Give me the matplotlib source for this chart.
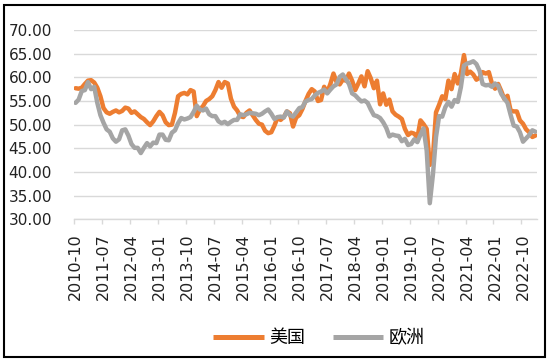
"""
US vs Europe manufacturing PMI, monthly line chart (Excel-style).
"""

import matplotlib
matplotlib.use('Agg')
import matplotlib.pyplot as plt
from matplotlib.patches import Rectangle
import numpy as np

# monthly values, 2010-10 .. 2023-02
us = [
    57.7, 57.6, 57.8, 58.6, 59.3, 59.4, 58.9, 57.8, 56.0, 53.5,
    52.6, 52.3, 52.7, 53.0, 52.6, 52.9, 53.6, 53.4, 52.5, 52.8,
    52.2, 51.6, 51.2, 50.5, 49.9, 50.7, 51.8, 52.7, 52.0, 50.5,
    49.9, 50.0, 52.5, 56.0, 56.5, 56.7, 56.4, 57.3, 57.0, 51.8,
    53.2, 53.9, 55.0, 55.4, 56.0, 57.3, 59.0, 57.8, 59.0, 58.7,
    55.5, 53.8, 53.0, 51.8, 51.6, 52.5, 53.0, 52.0, 51.0, 50.2,
    50.0, 48.7, 48.2, 48.4, 49.8, 51.5, 51.0, 51.6, 52.8, 52.4,
    49.6, 51.5, 52.0, 53.3, 55.0, 56.5, 57.5, 57.0, 55.0, 55.2,
    58.0, 56.8, 58.6, 60.8, 59.0, 58.5, 59.5, 59.3, 60.8, 59.3,
    57.3, 58.7, 60.2, 58.1, 61.3, 59.8, 57.7, 59.3, 54.3, 56.6,
    54.2, 55.3, 52.8, 52.1, 51.7, 51.2, 49.1, 47.8, 48.3, 48.1,
    47.2, 50.9, 50.1, 49.1, 41.5, 43.1, 52.6, 54.2, 56.0, 55.4,
    59.3, 57.5, 60.7, 58.7, 60.8, 64.7, 60.7, 61.2, 60.6, 59.5,
    59.9, 61.1, 60.8, 61.1, 58.7, 57.6, 58.6, 57.1, 55.4, 56.1,
    53.0, 52.8, 52.8, 50.9, 50.2, 49.0, 48.4, 47.4, 47.7,
]

eu = [
    54.6, 55.3, 57.1, 57.3, 59.0, 57.5, 58.0, 54.6, 52.0, 50.4,
    49.0, 48.5, 47.1, 46.4, 46.9, 48.8, 49.0, 47.7, 45.9, 45.1,
    45.1, 44.0, 45.1, 46.1, 45.4, 46.2, 46.1, 47.9, 47.9, 46.8,
    46.7, 48.3, 48.8, 50.3, 51.4, 51.1, 51.3, 51.6, 52.7, 54.0,
    53.2, 53.0, 53.4, 52.2, 51.8, 51.8, 50.7, 50.3, 50.6, 50.1,
    50.6, 51.0, 51.0, 52.2, 52.0, 52.2, 52.5, 52.4, 52.3, 52.0,
    52.3, 52.8, 53.2, 52.3, 51.2, 51.6, 51.7, 51.5, 52.8, 52.0,
    51.7, 52.6, 53.5, 53.7, 54.9, 55.2, 55.4, 56.2, 56.7, 57.0,
    57.4, 56.6, 57.4, 58.1, 58.5, 60.1, 60.6, 59.6, 58.6, 56.6,
    56.2, 55.5, 54.9, 55.1, 54.6, 53.2, 52.0, 51.8, 51.4, 50.5,
    49.3, 47.5, 47.9, 47.7, 47.6, 46.5, 47.0, 45.7, 45.9, 46.9,
    46.3, 47.9, 49.2, 44.5, 33.4, 39.4, 47.4, 51.8, 51.7, 53.7,
    54.8, 53.8, 55.2, 54.8, 57.9, 62.5, 62.9, 63.1, 63.4, 62.8,
    61.4, 58.6, 58.3, 58.4, 58.0, 58.7, 58.2, 56.5, 55.5, 54.6,
    52.1, 49.8, 49.6, 48.4, 46.4, 47.1, 47.8, 48.8, 48.5,
]

tick_labels = ['2010-10', '2011-07', '2012-04', '2013-01', '2013-10', '2014-07',
               '2015-04', '2016-01', '2016-10', '2017-07', '2018-04', '2019-01',
               '2019-10', '2020-07', '2021-04', '2022-01', '2022-10']
series_names = ['美国', '欧洲']

colors = {
    'us': '#ED7D31',
    'eu': '#A5A5A5',
    'grid': '#D9D9D9',
    'text': '#222222',
}

fig = plt.figure(figsize=(5.5, 3.61), dpi=100)
ax = fig.add_axes([74 / 550, 1 - 219.3 / 361, (537 - 74) / 550, (219.3 - 30) / 361])

x = np.arange(len(us))
ax.plot(x, us, color=colors['us'], lw=3.2, solid_joinstyle='round',
        solid_capstyle='round', label=series_names[0], zorder=3)
ax.plot(x, eu, color=colors['eu'], lw=3.2, solid_joinstyle='round',
        solid_capstyle='round', label=series_names[1], zorder=4)

ax.set_xlim(-0.5, len(us) - 0.5)
ax.set_ylim(30, 70)

# y axis
yt = np.arange(30, 71, 5)
ax.set_yticks(yt)
ax.set_yticklabels([f'{v:.2f}' for v in yt], fontsize=11, color=colors['text'],
                   family='DejaVu Sans', ha='left')
ax.tick_params(axis='y', length=0, pad=47)
ax.grid(axis='y', color=colors['grid'], lw=1.0)
ax.set_axisbelow(True)

# x axis: tick marks between categories, labels on categories
label_pos = np.arange(0, len(us), 9)[:len(tick_labels)]
ax.set_xticks(label_pos - 0.5)
ax.set_xticklabels([])
ax.set_xticks(label_pos, minor=True)
ax.set_xticklabels(tick_labels, minor=True, rotation=90, fontsize=11.5,
                   color=colors['text'], family='DejaVu Sans')
ax.tick_params(axis='x', which='major', length=3.5, color=colors['grid'], width=1)
ax.tick_params(axis='x', which='minor', length=0, pad=10)

for s in ['top', 'right', 'left']:
    ax.spines[s].set_visible(False)
ax.spines['bottom'].set_color(colors['grid'])
ax.spines['bottom'].set_linewidth(1.0)

fig.legend(loc='center', bbox_to_anchor=(319 / 550, 1 - 338 / 361), ncol=2,
           frameon=False, prop={'family': ['Noto Sans CJK SC', 'DejaVu Sans'], 'size': 13},
           handlelength=2.8, handletextpad=0.3, columnspacing=1.5)
for line in fig.legends[0].get_lines():
    line.set_linewidth(3.6)
    line.set_solid_capstyle('butt')

# outer frame
fig.patches.append(Rectangle((3.7 / 550, 4 / 361), (544.5 - 3.7) / 550, (356.2 - 4) / 361,
                             transform=fig.transFigure, fill=False,
                             edgecolor='black', lw=1.5))

plt.savefig('out.png', dpi=100, facecolor='white')
